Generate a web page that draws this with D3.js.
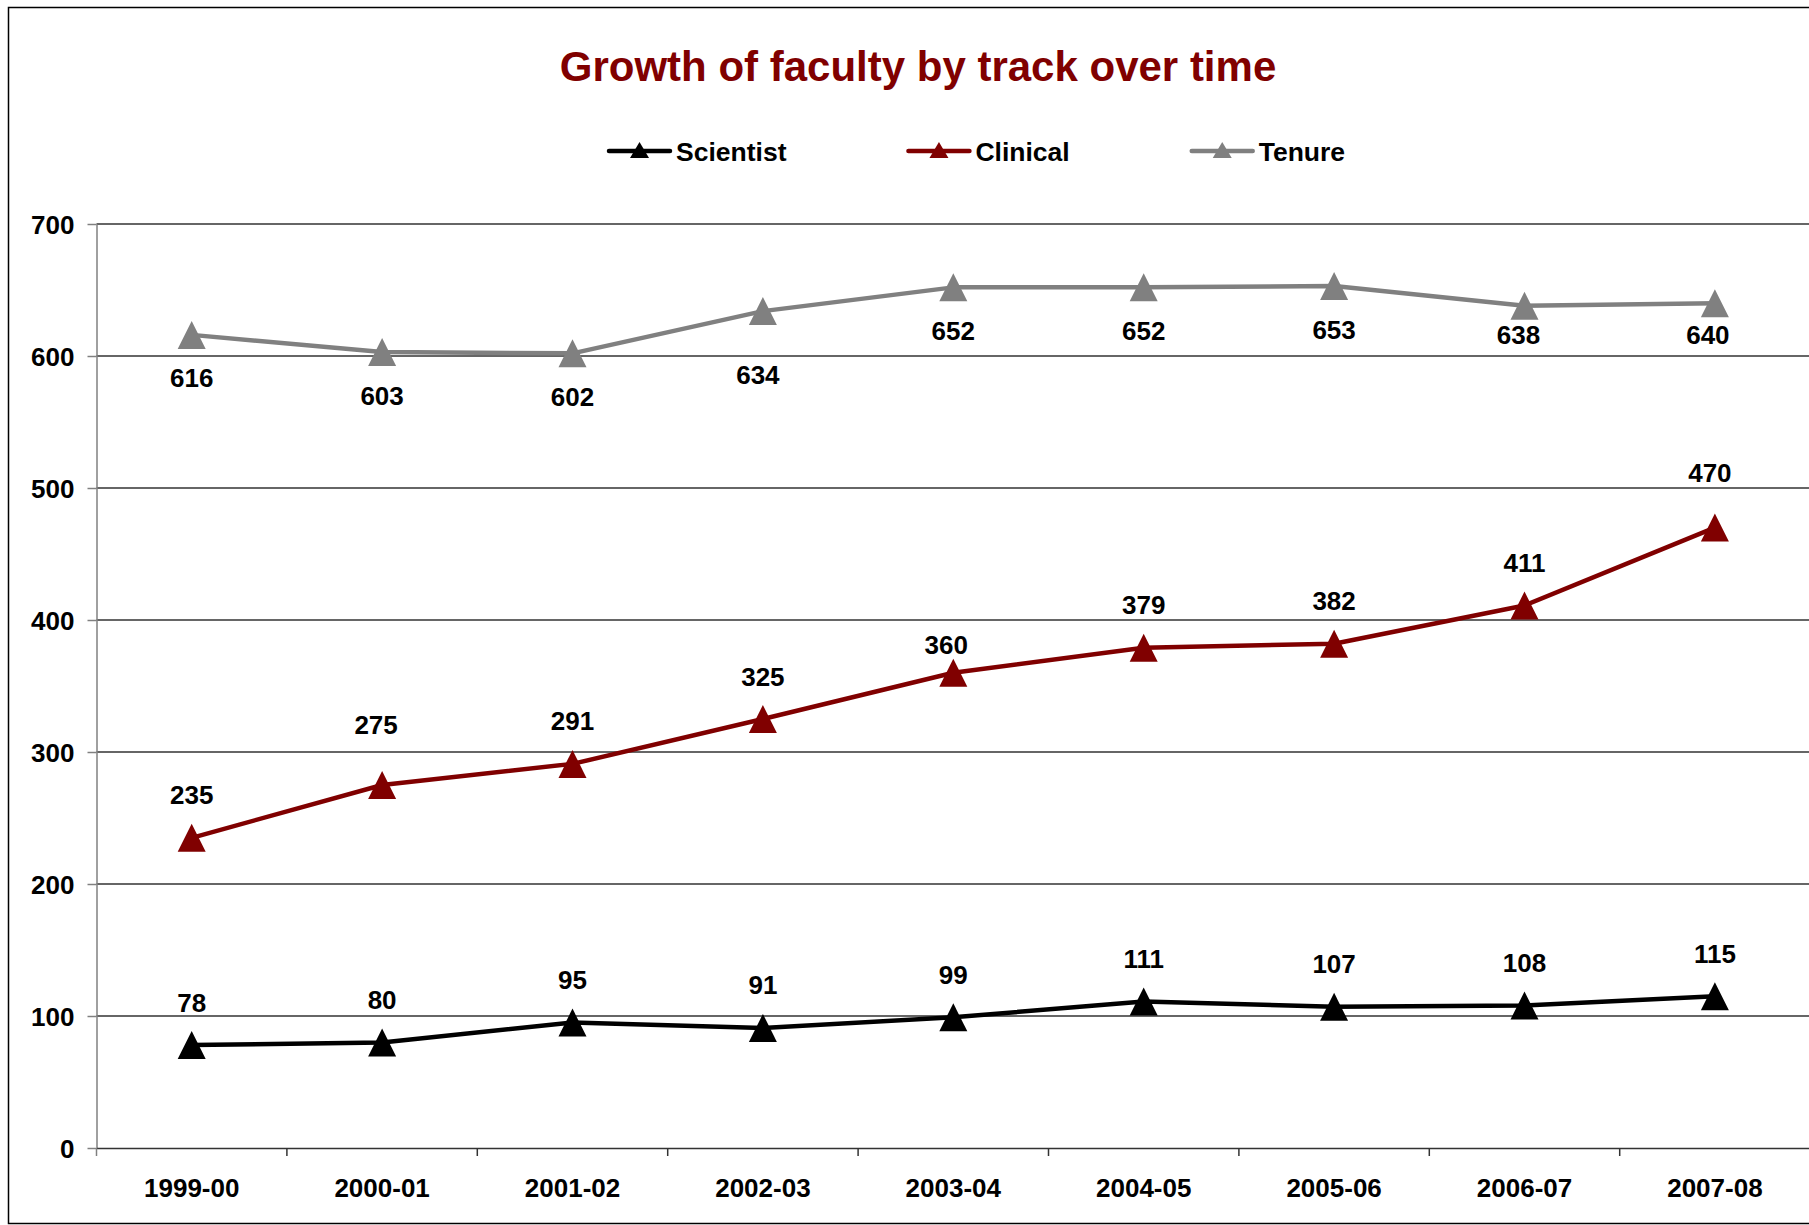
<!DOCTYPE html>
<html>
<head>
<meta charset="utf-8">
<script src="https://cdn.jsdelivr.net/npm/d3@7"></script>
<style>
  body { margin: 0; background: #fff; }
  svg text { font-family: "Liberation Sans", Arial, sans-serif; font-weight: bold; }
</style>
</head>
<body>
<svg id="chart" width="1809" height="1225"></svg>
<script>
var categories = ['1999-00', '2000-01', '2001-02', '2002-03', '2003-04', '2004-05', '2005-06', '2006-07', '2007-08'];
var scientist = [78, 80, 95, 91, 99, 111, 107, 108, 115];
var clinical = [235, 275, 291, 325, 360, 379, 382, 411, 470];
var tenure = [616, 603, 602, 634, 652, 652, 653, 638, 640];
var yTicks = [0, 100, 200, 300, 400, 500, 600, 700];
var seriesNames = ['Scientist', 'Clinical', 'Tenure'];

// label nudges (px) for the few labels that were dragged in the original
var labelNudge = {
  'Tenure:2002-03': [-5, 20], 'Tenure:2006-07': [-6, -14], 'Tenure:2007-08': [-7, -12],
  'Clinical:2000-01': [-6, -18], 'Clinical:2003-04': [-7, 15], 'Clinical:2007-08': [-5, -12]
};

var svg = d3.select('#chart'),
    left = 96.5,
    band = 190.4,
    top_y = 224,
    bottom_y = 1148,
    label_gap = 43,
    font_size = 26;

var series = [
  { name: seriesNames[0], values: scientist, color: '#000000', below: false },
  { name: seriesNames[1], values: clinical, color: '#800000', below: false },
  { name: seriesNames[2], values: tenure, color: '#808080', below: true }
];

var x = d3.scaleBand().domain(categories).range([left, left + band * categories.length]).padding(0),
    y = d3.scaleLinear().domain([0, 700]).range([bottom_y, top_y]);

function cx(c) { return x(c) + x.bandwidth() / 2; }

// outer frame
svg.append('rect')
   .attr('x', 8.5).attr('y', 7.5)
   .attr('width', 2000).attr('height', 1216)
   .attr('fill', 'none').attr('stroke', '#000').attr('stroke-width', 1.5);

// title
svg.append('text')
   .text('Growth of faculty by track over time')
   .attr('x', 918).attr('y', 81)
   .attr('text-anchor', 'middle')
   .attr('fill', '#800000')
   .style('font-size', '42px');

// gridlines
svg.append('g')
   .selectAll('line')
   .data(yTicks.filter(function(d){ return d > 0; }))
   .enter().append('line')
   .attr('x1', left).attr('x2', 1809)
   .attr('y1', function(d){ return y(d); })
   .attr('y2', function(d){ return y(d); })
   .attr('stroke', '#333').attr('stroke-width', 1.3);

// y axis
var yAxis = svg.append('g')
   .attr('transform', 'translate(' + left + ',0)')
   .call(d3.axisLeft(y).tickValues(yTicks).tickSize(9).tickPadding(13).tickSizeOuter(0));
yAxis.select('.domain').attr('stroke', '#808080').attr('stroke-width', 1.5);
yAxis.selectAll('.tick line').attr('stroke', '#808080').attr('stroke-width', 1.5);
yAxis.selectAll('.tick text')
     .attr('fill', '#000')
     .style('font-size', font_size + 'px')
     .style('font-family', '"Liberation Sans", Arial, sans-serif')
     .attr('dy', '0.36em');

// x axis
var xAxis = svg.append('g')
   .attr('transform', 'translate(0,' + bottom_y + ')')
   .call(d3.axisBottom(x).tickSize(0).tickPadding(49).tickSizeOuter(0));
xAxis.select('.domain').attr('stroke', '#333').attr('stroke-width', 1.5);
xAxis.selectAll('.tick text')
     .attr('fill', '#000')
     .attr('dy', '0')
     .style('font-size', font_size + 'px')
     .style('font-family', '"Liberation Sans", Arial, sans-serif');
xAxis.selectAll('.boundary')
     .data(categories)
     .enter().append('line')
     .attr('class', 'boundary')
     .attr('x1', function(d){ return x(d); })
     .attr('x2', function(d){ return x(d); })
     .attr('y1', 0).attr('y2', 8)
     .attr('stroke', function(d, i){ return i === 0 ? '#808080' : '#333'; })
     .attr('stroke-width', 1.5);

// lines, markers, labels
var tri = function(s) { return 'M0,' + (-s) + 'L' + s + ',' + s + 'L' + (-s) + ',' + s + 'Z'; };
var line = d3.line()
   .x(function(d, i){ return cx(categories[i]); })
   .y(function(d){ return y(d); });

series.forEach(function(s) {
  var g = svg.append('g').attr('class', 'series');
  g.append('path')
   .attr('d', line(s.values))
   .attr('fill', 'none')
   .attr('stroke', s.color)
   .attr('stroke-width', 4.5)
   .attr('stroke-linejoin', 'round');
  g.selectAll('path.marker')
   .data(s.values)
   .enter().append('path')
   .attr('class', 'marker')
   .attr('d', tri(14))
   .attr('fill', s.color)
   .attr('transform', function(d, i){ return 'translate(' + cx(categories[i]) + ',' + y(d) + ')'; });
  g.selectAll('text')
   .data(s.values)
   .enter().append('text')
   .text(function(d){ return d; })
   .attr('text-anchor', 'middle')
   .style('font-size', font_size + 'px')
   .attr('x', function(d, i){
      var n = labelNudge[s.name + ':' + categories[i]];
      return cx(categories[i]) + (n ? n[0] : 0);
   })
   .attr('y', function(d, i){
      var n = labelNudge[s.name + ':' + categories[i]];
      var c = y(d) + (s.below ? label_gap : -label_gap) + (n ? n[1] : 0);
      return c + 9.5;
   });
});

// legend
var lx = 609;
series.forEach(function(s) {
  var g = svg.append('g').attr('transform', 'translate(' + lx + ',151)');
  g.append('line')
   .attr('x1', 0).attr('x2', 61)
   .attr('stroke', s.color).attr('stroke-width', 4.5)
   .attr('stroke-linecap', 'round');
  g.append('path')
   .attr('d', 'M0,-9L9.5,7L-9.5,7Z')
   .attr('transform', 'translate(30.5,0)')
   .attr('fill', s.color);
  var t = g.append('text')
   .text(s.name)
   .attr('x', 67).attr('y', 9.5)
   .style('font-size', '26.5px');
  lx += 67 + t.node().getComputedTextLength() + 122;
});
</script>
</body>
</html>
